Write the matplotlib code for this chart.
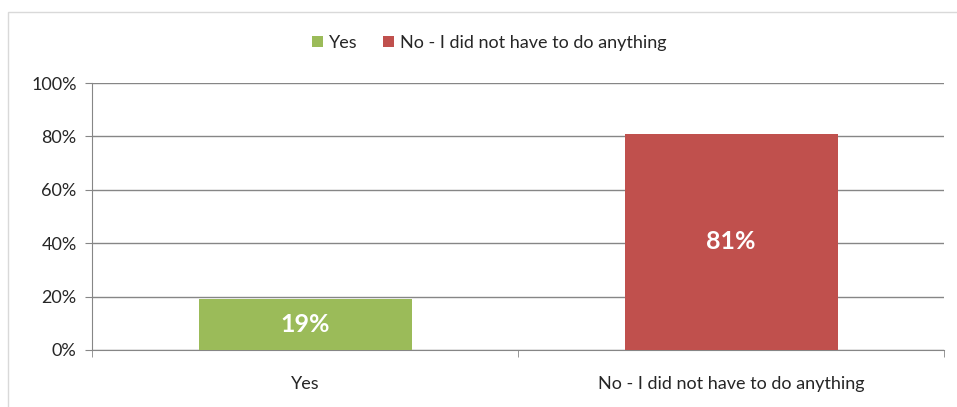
import matplotlib.pyplot as plt
from matplotlib.patches import Rectangle, Patch

# --- data ---
categories = ["Yes", "No - I did not have to do anything"]
values = [19, 81]
bar_labels = ["19%", "81%"]
colors = ["#9BBB59", "#C0504D"]
y_ticks = [0, 20, 40, 60, 80, 100]
y_tick_labels = ["0%", "20%", "40%", "60%", "80%", "100%"]

plt.rcParams['font.family'] = ['Lato', 'DejaVu Sans']

fig = plt.figure(figsize=(9.57, 4.07), dpi=100)
W, H = 957, 407

# outer chart border (light grey)
fig.patches.append(Rectangle((8 / W, -0.1), 1.2, (407 - 12) / H + 0.1,
                             transform=fig.transFigure, fill=False,
                             edgecolor="#D9D9D9", linewidth=1))

ax = fig.add_axes([92 / W, (H - 350) / H, (944 - 92) / W, (350 - 83) / H])

x = list(range(len(categories)))
bars = ax.bar(x, values, width=0.5, color=colors, zorder=3)

for b, lab in zip(bars, bar_labels):
    ax.text(b.get_x() + b.get_width() / 2, b.get_height() / 2, lab,
            ha="center", va="center", color="white", fontsize=18,
            fontweight="bold", zorder=4)

ax.set_xlim(-0.5, len(categories) - 0.5)
ax.set_ylim(0, 100)
ax.set_yticks(y_ticks)
ax.set_yticklabels(y_tick_labels)
ax.set_xticks(x)
ax.set_xticklabels(categories)
ax.set_xticks([-0.5, 0.5, 1.5], minor=True)

ax.grid(axis="y", color="#868686", linewidth=1, zorder=0)
for s in ["top", "right"]:
    ax.spines[s].set_visible(False)
for s in ["left", "bottom"]:
    ax.spines[s].set_color("#868686")

ax.tick_params(axis="y", length=5, color="#868686", labelsize=13,
               labelcolor="#262626", pad=6)
ax.tick_params(axis="x", which="major", length=0, labelsize=13,
               labelcolor="#262626", pad=19)
ax.tick_params(axis="x", which="minor", length=5, color="#868686")

handles = [Patch(facecolor=c, label=cat) for c, cat in zip(colors, categories)]
fig.legend(handles=handles, loc="center", bbox_to_anchor=(0.5115, (H - 43) / H),
           ncol=2, frameon=False, fontsize=13, handlelength=0.6,
           handleheight=0.6, columnspacing=1.4, handletextpad=0.35,
           labelcolor="#262626")

fig.savefig("out.png", dpi=100)
